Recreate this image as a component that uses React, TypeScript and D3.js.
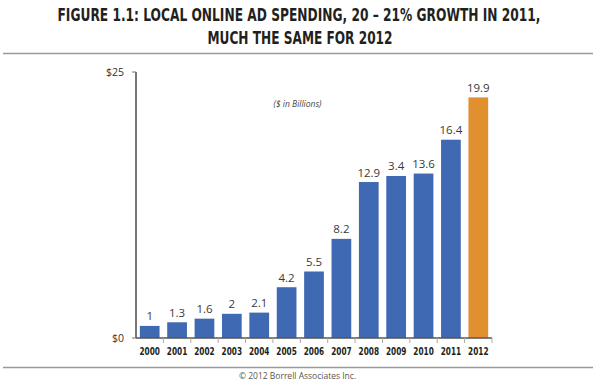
import React from "react";
import * as d3 from "d3";

const years = ["2000","2001","2002","2003","2004","2005","2006","2007","2008","2009","2010","2011","2012"];
const values = [1, 1.3, 1.6, 2, 2.1, 4.2, 5.5, 8.2, 12.9, 13.4, 13.6, 16.4, 19.9];
const valueLabels = ["1","1.3","1.6","2","2.1","4.2","5.5","8.2","12.9","3.4","13.6","16.4","19.9"];
const forecastYears = ["2012"];
const yTickValues = [0, 22];
const yTickLabels = ["$0", "$25"];
const titleLines = [
  "FIGURE 1.1: LOCAL ONLINE AD SPENDING, 20 \u2013 21% GROWTH IN 2011,",
  "MUCH THE SAME FOR 2012",
];
const unitNote = "($ in Billions)";
const credit = "\u00a9 2012 Borrell Associates Inc.";

const W = 600;
const H = 392;
const condensed = "'DejaVu Sans Condensed', 'Liberation Sans Narrow', sans-serif";
const sans = "'Open Sans', 'Noto Sans', 'DejaVu Sans', sans-serif";

export default function App() {
  const x = d3.scaleBand<string>().domain(years).range([136, 492]).paddingInner(0.28).paddingOuter(0.14);
  const y = d3.scaleLinear().domain([0, 22]).range([338, 72]);
  const step = x.step();
  const gapHalf = (step - x.bandwidth()) / 2;
  const blue = "#3f69b2";
  const orange = "#e1902f";

  return (
    <svg width={W} height={H} style={{ position: "absolute", left: 0, top: 0, background: "#fff" }}>
      <rect x={0} y={0} width={W} height={H} fill="#fff" />
      {/* title */}
      <text x={299} y={21} textAnchor="middle" fontFamily={condensed} fontWeight="bold" fontSize={18} fill="#231f20" textLength={483} lengthAdjust="spacingAndGlyphs">{titleLines[0]}</text>
      <text x={300} y={43.5} textAnchor="middle" fontFamily={condensed} fontWeight="bold" fontSize={18} fill="#231f20" textLength={185} lengthAdjust="spacingAndGlyphs">{titleLines[1]}</text>
      <line x1={3} x2={593} y1={53.5} y2={53.5} stroke="#9a9a9a" strokeWidth={1.5} />

      {/* unit note */}
      <text x={297.5} y={107} textAnchor="middle" fontFamily={sans} fontStyle="italic" fontSize={8.5} fill="#444">{unitNote}</text>

      {/* bars */}
      {years.map((yr, i) => (
        <rect key={yr} x={x(yr)} y={y(values[i])} width={x.bandwidth()} height={y(0) - y(values[i])}
          fill={forecastYears.includes(yr) ? orange : blue} />
      ))}
      {/* value labels */}
      {years.map((yr, i) => (
        <text key={"v" + yr} x={(x(yr) as number) + x.bandwidth() / 2} y={y(values[i]) - 5.5} textAnchor="middle"
          fontFamily={sans} fontSize={11.5} fill="#3a3a3a">{valueLabels[i]}</text>
      ))}

      {/* y axis */}
      <line x1={136} x2={136} y1={y(22)} y2={y(0)} stroke="#555" strokeWidth={1.6} />
      {yTickValues.map((v, i) => (
        <g key={"yt" + i}>
          <line x1={132} x2={136} y1={y(v)} y2={y(v)} stroke="#777" strokeWidth={1} />
          <text x={124} y={y(v)} dy="0.35em" textAnchor="end" fontFamily={sans} fontSize={10.5} fill="#333">{yTickLabels[i]}</text>
        </g>
      ))}

      {/* x axis */}
      <line x1={136} x2={492} y1={y(0)} y2={y(0)} stroke="#555" strokeWidth={1.6} />
      {years.slice(1).map((yr) => (
        <line key={"xt" + yr} x1={(x(yr) as number) - gapHalf} x2={(x(yr) as number) - gapHalf} y1={y(0)} y2={y(0) + 5} stroke="#aaa" strokeWidth={1} />
      ))}
      <line x1={492} x2={492} y1={y(0)} y2={y(0) + 5} stroke="#aaa" strokeWidth={1} />
      {years.map((yr) => (
        <text key={"xl" + yr} x={(x(yr) as number) + x.bandwidth() / 2} y={354.5} textAnchor="middle"
          fontFamily={condensed} fontWeight="bold" fontSize={11} fill="#231f20" textLength={20.5} lengthAdjust="spacingAndGlyphs">{yr}</text>
      ))}

      {/* footer */}
      <line x1={3} x2={593} y1={367.5} y2={367.5} stroke="#9a9a9a" strokeWidth={1.5} />
      <text x={297.5} y={378.5} textAnchor="middle" fontFamily={sans} fontSize={8.5} fill="#555">{credit}</text>
    </svg>
  );
}
